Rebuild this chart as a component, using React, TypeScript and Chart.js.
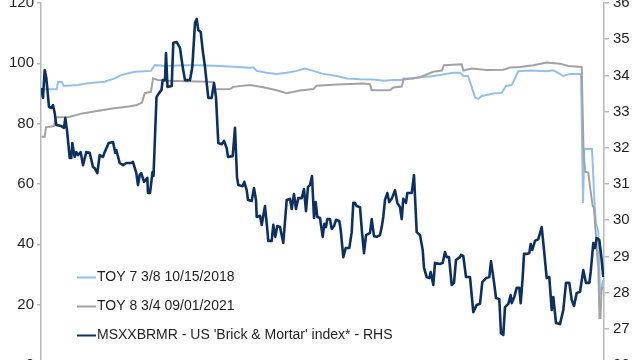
import React, { useEffect, useRef } from "react";
import { Chart, registerables } from "chart.js";

Chart.register(...registerables);

// ---------- Data ----------
const SERIES_LABELS = [
  "TOY 7 3/8 10/15/2018",
  "TOY 8 3/4 09/01/2021",
  "MSXXBRMR - US 'Brick & Mortar' index* - RHS",
];

// time index (trading-day steps) shared by all series
const T_MAX = 563;

// LHS axis ticks / RHS axis ticks
const LEFT_MIN = 0;
const LEFT_MAX = 120;
const LEFT_STEP = 20;
const RIGHT_MIN = 26;
const RIGHT_MAX = 36;
const RIGHT_STEP = 1;

// TOY 7 3/8 10/15/2018 (LHS, price)
const toy7T = [
  0.7, 15.7, 17, 21, 22.5, 37, 47, 63.7, 73.7, 80, 93.7, 110, 113.7, 125.7, 142, 159, 179, 192, 209,
  212.3, 215.7, 225.7, 235.7, 245.7, 255.7, 264, 272.3, 282.3, 295.7, 305.7, 319, 332.3, 342.3, 352.3,
  360.7, 363, 372.3, 379, 389, 399, 412.3, 419, 422.3, 427, 430.7, 434, 437.3, 440.7, 452.3, 460.7, 465,
  470.7, 474, 477.3, 489, 505.7, 512.3, 515.7, 522.3, 529, 540, 542, 543.3, 551, 552.3, 553.7, 555,
  557.3, 559, 560.7, 562,
];
const toy7V = [
  91.4, 91.4, 93.8, 93.8, 92.5, 92.8, 93.4, 93.9, 95.0, 96.1, 97.2, 97.5, 99.4, 99.1, 99.4, 99.4, 99.1,
  98.9, 98.5, 98.7, 97.5, 96.9, 96.5, 96.9, 97.5, 98.3, 97.5, 96.5, 95.8, 95.0, 94.7, 94.6, 94.2, 94.5,
  94.5, 95.0, 95.0, 95.5, 95.6, 96.1, 96.9, 96.9, 95.8, 95.8, 92.2, 88.7, 88.2, 89.2, 90.0, 90.2, 92.5,
  92.8, 95.0, 97.4, 97.6, 97.4, 97.7, 97.1, 95.8, 96.5, 96.5, 53.7, 71.6, 71.6, 62.4, 52.5, 47.1, 44.2,
  23.9, 25.9, 28.2,
];

// TOY 8 3/4 09/01/2021 (LHS, price)
const toy8T = [
  0.7, 3.7, 5, 13, 14.7, 28, 41.3, 56, 73, 88, 96, 101, 103.7, 110, 112, 117, 125.7, 145.7, 165.7, 172.3,
  174.5, 189, 192.3, 209, 222.3, 235.7, 245.7, 259, 272.3, 275.7, 295.7, 322.3, 329, 330.7, 349, 352.3,
  360.7, 362.5, 375.7, 379, 392.3, 400.7, 403, 420.7, 422.3, 430.7, 445.7, 462.3, 469, 479, 492.3, 505.7,
  519, 527.3, 540.7, 542.5, 544, 547.3, 549, 551.7, 553, 554.7, 556.3, 557.3, 558.5, 559.5, 560.5, 562,
];
const toy8V = [
  75.7, 75.7, 78.8, 79.2, 82.1, 82.2, 83.4, 84.2, 85.1, 85.7, 86.2, 87.0, 90.1, 90.6, 95.0, 94.5, 94.2,
  94.1, 93.9, 93.8, 91.4, 91.5, 92.2, 92.8, 92.1, 91.1, 90.1, 91.0, 91.5, 92.6, 93.0, 93.3, 93.1, 91.1,
  91.1, 92.0, 92.3, 94.6, 95.2, 95.4, 97.2, 97.6, 99.4, 99.7, 97.6, 98.3, 97.8, 97.9, 98.6, 98.8, 99.4,
  100.3, 99.9, 99.1, 98.8, 71.3, 64.1, 63.8, 59.1, 52.7, 52.0, 43.8, 35.8, 32.5, 15.6, 15.6, 24.9, 25.9,
];

// MSXXBRMR index (RHS)
const msxxT = [
  0.3, 2, 3.7, 5.3, 8, 10.3, 12, 13.7, 15.3, 20.3, 23, 24.3, 26, 28.7, 30.3, 31.3, 33.7, 35.3, 37, 39.7,
  42, 45.3, 48.7, 52, 53.7, 56.3, 58.7, 62, 63.7, 67.7, 72, 74.3, 75.3, 78.7, 82, 85.3, 90.3, 92, 95.3, 97,
  98.7, 100.3, 103, 106.3, 107, 109, 111.5, 112.5, 115.5, 118, 120.5, 121.7, 124, 125, 126.5, 130.7, 132.3,
  135.7, 139, 141.7, 144, 149, 151.3, 154, 155.7, 157.3, 159.7, 161.7, 164, 167.3, 170.7, 173, 175, 177.3,
  180.7, 183, 185.7, 187, 191.7, 194, 196, 197.3, 201.7, 203.3, 205.7, 207, 210.7, 213, 215, 215.7, 219,
  220.7, 224, 225.7, 227.3, 230.7, 232.3, 234.3, 236.3, 239, 242.3, 245.7, 249, 250.7, 253, 255, 257.3,
  260.7, 263, 265, 267, 269, 271, 273, 274.7, 276.3, 279, 281.7, 283.3, 285, 286.3, 289, 290.7, 293, 295,
  298.3, 299.7, 302.3, 304.7, 308.3, 310.7, 312.3, 314, 315.7, 319, 321, 323, 325, 329, 330.7, 333, 335.7,
  339, 340.7, 342.3, 344, 346.3, 348.3, 350.7, 354, 356.3, 359, 360.7, 362.3, 365, 366.3, 370.7, 373,
  375.7, 379, 381.7, 383, 385.7, 388.3, 389.7, 392.3, 394, 399, 401.7, 404, 405.7, 408, 410.7, 413, 415,
  419, 420, 422.3, 425, 429, 432.3, 435.7, 439, 441.3, 445, 448.3, 450, 453, 455, 458.3, 460, 462.3, 464,
  467.3, 469.7, 470.7, 473.3, 475.7, 478.3, 479.7, 481.7, 483, 486.3, 488.3, 489.7, 491.3, 494, 497.3,
  500.7, 503, 505.7, 508.3, 510.7, 512.3, 515, 519, 522.3, 525, 528.3, 530.7, 533, 535.7, 539, 542.3, 545,
  548.3, 549.7, 552.3, 554, 555.7, 558.3, 560.7, 562.3,
];
const msxxV = [
  33.65, 33.38, 34.15, 33.93, 33.13, 33.1, 33.18, 32.96, 32.63, 32.6, 32.55, 32.82, 32.49, 31.72, 31.72,
  32.13, 31.75, 31.88, 31.8, 31.88, 31.52, 31.88, 31.86, 31.47, 31.44, 31.3, 31.8, 31.75, 31.88, 32.13,
  32.16, 31.86, 31.94, 31.58, 31.52, 31.58, 31.58, 31.61, 31.3, 30.97, 31.25, 31.3, 31.06, 31.17, 30.75,
  30.75, 31.33, 31.22, 33.4, 33.51, 33.6, 33.87, 33.87, 34.62, 33.68, 33.71, 34.9, 34.92, 34.76, 34.23,
  33.87, 33.87, 34.23, 35.45, 35.56, 35.25, 35.2, 34.7, 34.23, 33.38, 33.38, 33.79, 33.4, 32.13, 32.1,
  32.19, 31.99, 31.75, 31.77, 32.55, 31.19, 30.97, 30.94, 31.06, 30.83, 30.56, 30.53, 30.89, 30.56, 30.09,
  30.12, 29.87, 30.39, 29.92, 29.43, 29.43, 29.87, 29.54, 29.84, 29.81, 29.37, 30.56, 30.59, 30.31, 30.72,
  30.31, 30.61, 30.61, 30.86, 30.25, 30.92, 30.97, 31.22, 30.06, 30.5, 30.09, 30.06, 29.54, 29.9, 29.81,
  30.03, 30.03, 29.76, 29.84, 30.01, 29.98, 29.73, 28.98, 29.23, 29.23, 29.67, 30.48, 30.48, 30.39, 30.36,
  29.67, 29.09, 29.59, 29.65, 30.03, 29.56, 29.54, 29.59, 29.81, 30.09, 30.56, 30.75, 30.5, 30.59, 30.83,
  30.48, 30.36, 30.03, 30.59, 30.48, 30.75, 30.75, 31.25, 29.67, 29.59, 29.18, 28.68, 28.43, 28.4, 28.57,
  28.21, 28.82, 28.79, 28.82, 29.12, 28.98, 28.98, 28.21, 28.27, 28.9, 28.98, 29.04, 29.01, 28.43, 28.43,
  27.46, 27.66, 27.69, 28.29, 28.4, 28.43, 28.87, 28.29, 27.85, 27.82, 26.88, 26.83, 27.6, 27.69, 27.93,
  27.71, 27.88, 28.13, 28.13, 27.71, 28.43, 29.07, 29.07, 29.09, 29.34, 29.18, 29.43, 29.48, 29.81, 29.18,
  28.4, 28.43, 27.52, 27.88, 27.16, 27.13, 27.52, 28.27, 28.27, 27.8, 27.63, 27.99, 28.02, 28.62, 28.27,
  28.27, 28.57, 29.37, 29.23, 29.51, 29.45, 28.9, 28.43,
];

// ---------- Styles ----------
const COLORS = ["#93c0eb", "#a2a2a2", "#0e3061"];
const AXIS_COLOR = "#b8b8b8";
const TEXT_COLOR = "#1f1f1f";
const FONT_FAMILY = "'Liberation Sans', Arial, Helvetica, sans-serif";

const zip = (t: number[], v: number[]) => t.map((x, i) => ({ x, y: v[i] }));

export default function App() {
  const ref = useRef<HTMLCanvasElement>(null);

  useEffect(() => {
    const canvas = ref.current;
    if (!canvas) return;

    const legendPlugin = {
      id: "insideLegend",
      afterDraw(chart: any) {
        const { ctx, chartArea } = chart;
        const offsets = [88, 59, 30];
        ctx.save();
        ctx.font = `14px ${FONT_FAMILY}`;
        ctx.textBaseline = "middle";
        ctx.textAlign = "left";
        SERIES_LABELS.forEach((label, i) => {
          const y = chartArea.bottom - offsets[i];
          const x0 = chartArea.left + 36;
          ctx.strokeStyle = COLORS[i];
          ctx.lineWidth = 2;
          ctx.beginPath();
          ctx.moveTo(x0, y + 0.5);
          ctx.lineTo(x0 + 19, y + 0.5);
          ctx.stroke();
          ctx.fillStyle = TEXT_COLOR;
          ctx.fillText(label, x0 + 20, y);
        });
        ctx.restore();
      },
    };

    const chart = new Chart(canvas, {
      type: "line",
      data: {
        datasets: [
          {
            label: SERIES_LABELS[0],
            data: zip(toy7T, toy7V),
            yAxisID: "y",
            borderColor: COLORS[0],
            borderWidth: 2,
            pointRadius: 0,
            tension: 0,
            order: 2,
          },
          {
            label: SERIES_LABELS[1],
            data: zip(toy8T, toy8V),
            yAxisID: "y",
            borderColor: COLORS[1],
            borderWidth: 2,
            pointRadius: 0,
            tension: 0,
            order: 1,
          },
          {
            label: SERIES_LABELS[2],
            data: zip(msxxT, msxxV),
            yAxisID: "y1",
            borderColor: COLORS[2],
            borderWidth: 2.6,
            borderJoinStyle: "round",
            pointRadius: 0,
            tension: 0,
            order: 0,
          },
        ],
      },
      options: {
        responsive: false,
        animation: false,
        events: [],
        layout: { padding: { top: 23, bottom: 35, left: 0, right: 0 } },
        plugins: {
          legend: { display: false },
          tooltip: { enabled: false },
        },
        scales: {
          x: { type: "linear", min: 0, max: T_MAX, display: false },
          y: {
            type: "linear",
            position: "left",
            min: LEFT_MIN,
            max: LEFT_MAX,
            ticks: {
              stepSize: LEFT_STEP,
              color: TEXT_COLOR,
              padding: 3,
              font: { family: FONT_FAMILY, size: 15 },
            },
            grid: { drawOnChartArea: false, drawTicks: true, tickLength: 4, color: AXIS_COLOR, lineWidth: 1.5 },
            border: { display: true, color: AXIS_COLOR, width: 1.5 },
            afterFit: (s: any) => {
              s.width = 41;
            },
          },
          y1: {
            type: "linear",
            position: "right",
            min: RIGHT_MIN,
            max: RIGHT_MAX,
            ticks: {
              stepSize: RIGHT_STEP,
              color: TEXT_COLOR,
              padding: 4,
              font: { family: FONT_FAMILY, size: 15 },
            },
            grid: { drawOnChartArea: false, drawTicks: true, tickLength: 5, color: AXIS_COLOR, lineWidth: 1.5 },
            border: { display: true, color: AXIS_COLOR, width: 1.5 },
            afterFit: (s: any) => {
              s.width = 36;
            },
          },
        },
      },
      plugins: [legendPlugin],
    });

    return () => chart.destroy();
  }, []);

  return (
    <div style={{ position: "fixed", left: 0, top: -20, width: 640, height: 420, background: "#fff" }}>
      <canvas ref={ref} width={640} height={420} style={{ display: "block" }} />
    </div>
  );
}
